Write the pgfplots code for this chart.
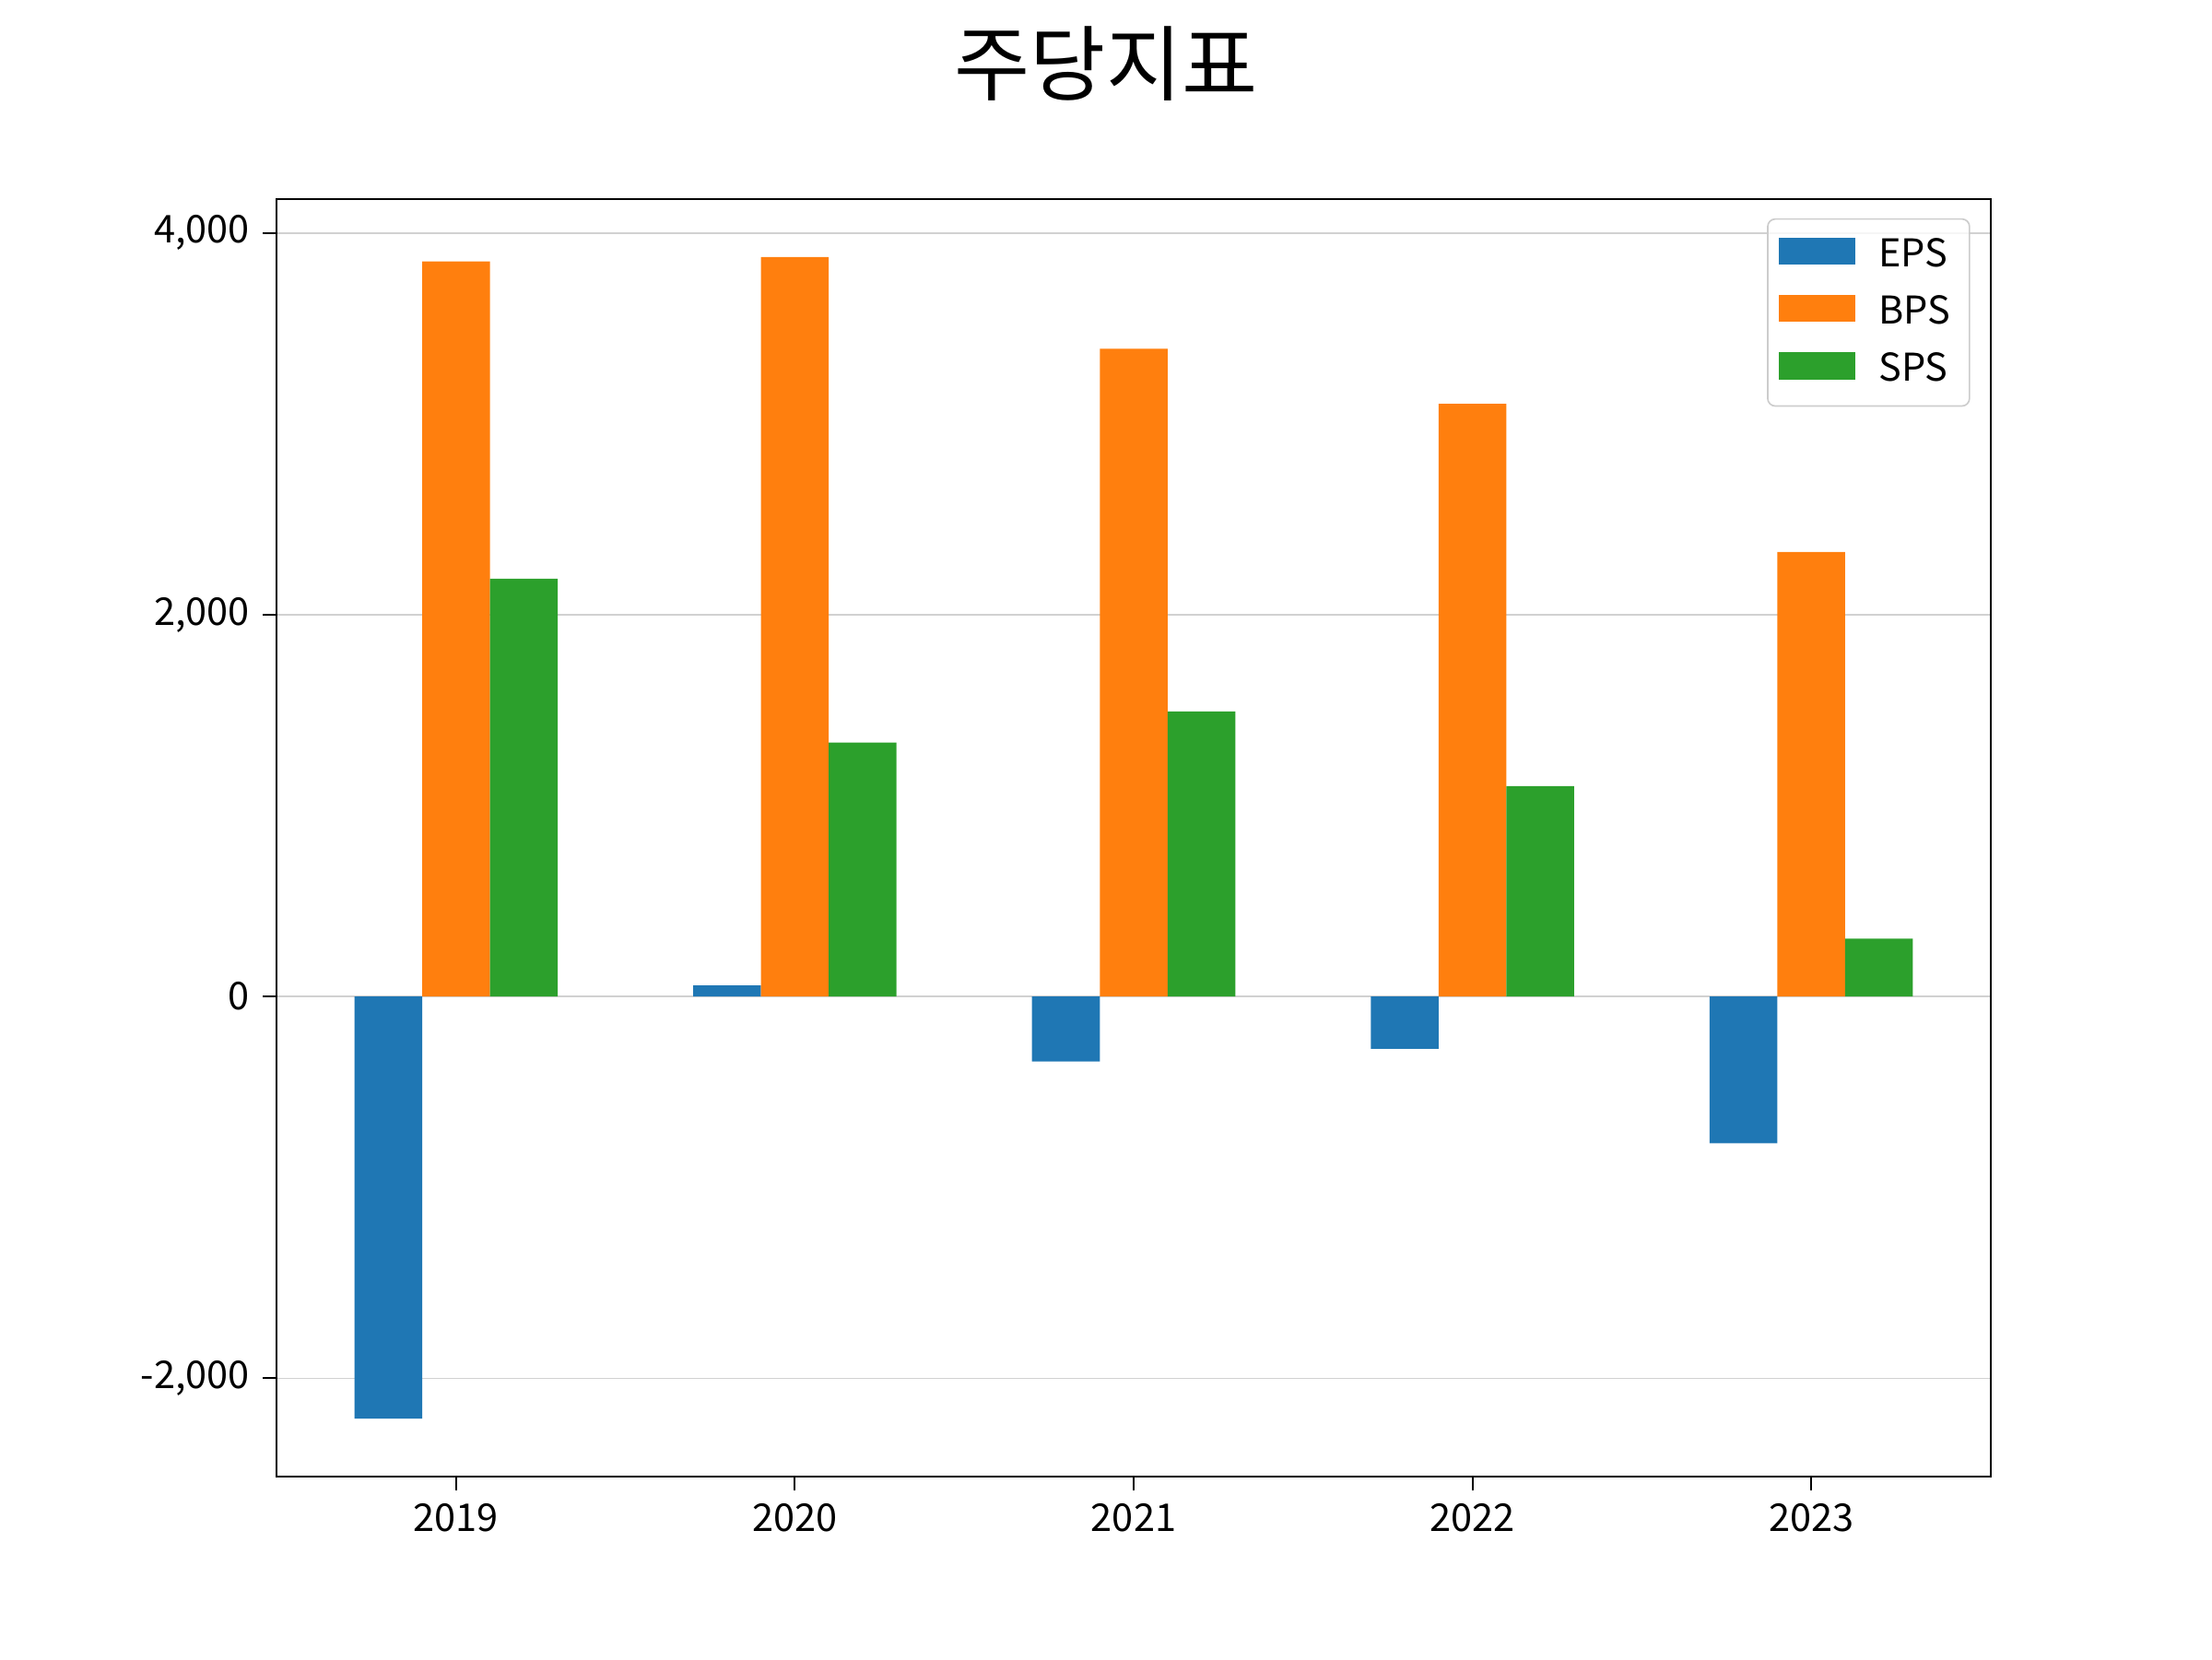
\documentclass[border=0pt]{standalone}
\usepackage{fontspec}
\setmainfont{Noto Sans CJK KR}
\usepackage{pgfplots}
\pgfplotsset{compat=1.18}
\definecolor{c1}{HTML}{1F77B4}
\definecolor{c2}{HTML}{FF7F0E}
\definecolor{c3}{HTML}{2CA02C}
\begin{document}
\begin{tikzpicture}
\useasboundingbox (0,0) rectangle (8in,6in);
\node[font=\fontsize{21.5}{26}\selectfont] at (4in,5.77in) {주당지표};
\begin{axis}[at={(1in,0.66in)}, anchor=south west, scale only axis,
  width=6.2in, height=4.62in,
  xmin=-0.53, xmax=4.53, ymin=-2515, ymax=4178,
  xtick={0,1,2,3,4}, xticklabels={2019,2020,2021,2022,2023},
  ytick={-2000,0,2000,4000},
  ymajorgrids, grid style={black!18, line width=0.4pt},
  tick align=outside, xtick pos=bottom, ytick pos=left,
  major tick length=3.5pt, tick style={black, line width=0.5pt},
  axis line style={line width=0.6pt},
  /pgf/number format/1000 sep={,}, /pgf/number format/assume math mode=true,
  ticklabel style={font=\fontsize{10}{12}\selectfont},
  ybar, bar width=0.2,
  legend style={at={(0.988,0.985)}, anchor=north east, draw=black!20,
    rounded corners=2pt, fill=white, fill opacity=0.8, text opacity=1,
    font=\fontsize{10}{12}\selectfont, row sep=2pt, inner xsep=3pt, inner ysep=3pt},
  legend cell align=left,
  legend image code/.code={\fill[#1, sharp corners, fill opacity=1] (0pt,-2.5pt) rectangle (20pt,4.5pt);},
]
\addplot[fill=c1, draw=none, bar shift=-0.2] coordinates {(0,-2211) (1,58) (2,-340) (3,-274) (4,-769)};
\addplot[fill=c2, draw=none, bar shift=0] coordinates {(0,3852) (1,3874) (2,3394) (3,3105) (4,2329)};
\addplot[fill=c3, draw=none, bar shift=0.2] coordinates {(0,2189) (1,1331) (2,1494) (3,1102) (4,303)};
\legend{\hspace{4pt}EPS,\hspace{4pt}BPS,\hspace{4pt}SPS}
\end{axis}
\end{tikzpicture}
\end{document}
